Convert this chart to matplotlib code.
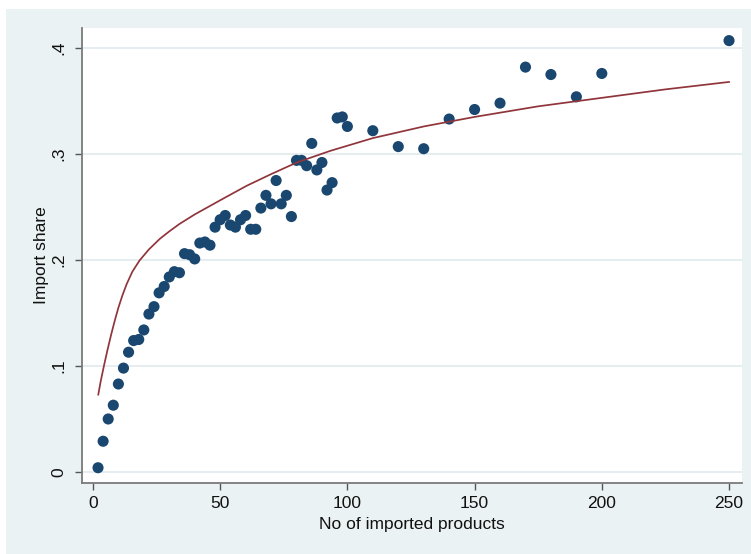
import matplotlib
matplotlib.use("Agg")
import matplotlib.pyplot as plt
from matplotlib.patches import Rectangle

# ---- data ----
n_products = [2, 4, 6, 8, 10, 12, 14, 16, 18, 20,
              22, 24, 26, 28, 30, 32, 34, 36, 38, 40,
              42, 44, 46, 48, 50, 52, 54, 56, 58, 60,
              62, 64, 66, 68, 70, 72, 74, 76, 78, 80,
              82, 84, 86, 88, 90, 92, 94, 96, 98, 100,
              110, 120, 130, 140, 150, 160, 170, 180, 190, 200, 250]
import_share = [0.004, 0.029, 0.050, 0.063, 0.083, 0.098, 0.113, 0.124, 0.125, 0.134,
                0.149, 0.156, 0.169, 0.175, 0.184, 0.189, 0.188, 0.206, 0.205, 0.201,
                0.216, 0.217, 0.214, 0.231, 0.238, 0.242, 0.233, 0.231, 0.238, 0.242,
                0.229, 0.229, 0.249, 0.261, 0.253, 0.275, 0.253, 0.261, 0.241, 0.294,
                0.294, 0.289, 0.310, 0.285, 0.292, 0.266, 0.273, 0.334, 0.335, 0.326,
                0.322, 0.307, 0.305, 0.333, 0.342, 0.348, 0.382, 0.375, 0.354, 0.376, 0.407]

# fitted curve
fit_x = [2.1, 3.0, 4.4, 5.8, 7.2, 8.6, 10, 11.5, 13.2, 15.5, 18.3, 22, 26.3, 30, 34,
         40, 52, 60.4, 70, 80.1, 93.3, 110, 130, 150, 175, 200, 225, 250]
fit_y = [0.073, 0.085, 0.101, 0.116, 0.130, 0.143, 0.155, 0.166, 0.177, 0.189, 0.1995,
         0.210, 0.220, 0.227, 0.234, 0.243, 0.259, 0.270, 0.281, 0.292, 0.303, 0.315,
         0.326, 0.335, 0.345, 0.353, 0.361, 0.368]

x_ticks = [0, 50, 100, 150, 200, 250]
x_tick_labels = ["0", "50", "100", "150", "200", "250"]
y_ticks = [0, 0.1, 0.2, 0.3, 0.4]
y_tick_labels = ["0", ".1", ".2", ".3", ".4"]

# ---- styling ----
plt.rcParams['font.family'] = ['Liberation Sans', 'DejaVu Sans']
BG = '#EAF2F3'
NAVY = '#1A476F'
MAROON = '#90353B'
FS = 12.5

W, H = 751, 554
fig = plt.figure(figsize=(W / 100, H / 100), dpi=100, facecolor='white')
fig.patches.append(Rectangle((6 / W, 0), 1 - 6 / W, 1 - 9 / H, transform=fig.transFigure,
                             facecolor=BG, edgecolor='none', zorder=-10))

ax = fig.add_axes([82 / W, 1 - 483 / H, (742 - 82) / W, (483 - 28) / H])
ax.set_facecolor('white')

ax.scatter(n_products, import_share, s=64, color=NAVY, edgecolors='none', zorder=3)
ax.plot(fit_x, fit_y, color=MAROON, lw=1.25, zorder=4, solid_joinstyle='round')

ax.set_xlim(-4.3, 255.1)
ax.set_ylim(-0.0104, 0.4189)

ax.set_xticks(x_ticks)
ax.set_xticklabels(x_tick_labels, fontsize=FS)
ax.set_yticks(y_ticks)
ax.set_yticklabels(y_tick_labels, fontsize=FS, rotation=90, va='center')

ax.grid(axis='y', color='#E3ECEF', lw=1.3, zorder=0)
ax.grid(axis='x', visible=False)
ax.set_axisbelow(True)

for s in ['top', 'right']:
    ax.spines[s].set_visible(False)
for s in ['left', 'bottom']:
    ax.spines[s].set_color('#7A7A7A')
    ax.spines[s].set_linewidth(1.3)

ax.tick_params(axis='both', direction='out', length=5, width=1, color='#555555',
               labelcolor='#111111')
ax.tick_params(axis='x', pad=4)
ax.tick_params(axis='y', pad=6)

ax.set_xlabel('No of imported products', fontsize=FS, color='#111111', labelpad=5)
ax.set_ylabel('Import share', fontsize=FS, color='#111111', labelpad=2)

fig.savefig('out.png', dpi=100, facecolor=fig.get_facecolor())
